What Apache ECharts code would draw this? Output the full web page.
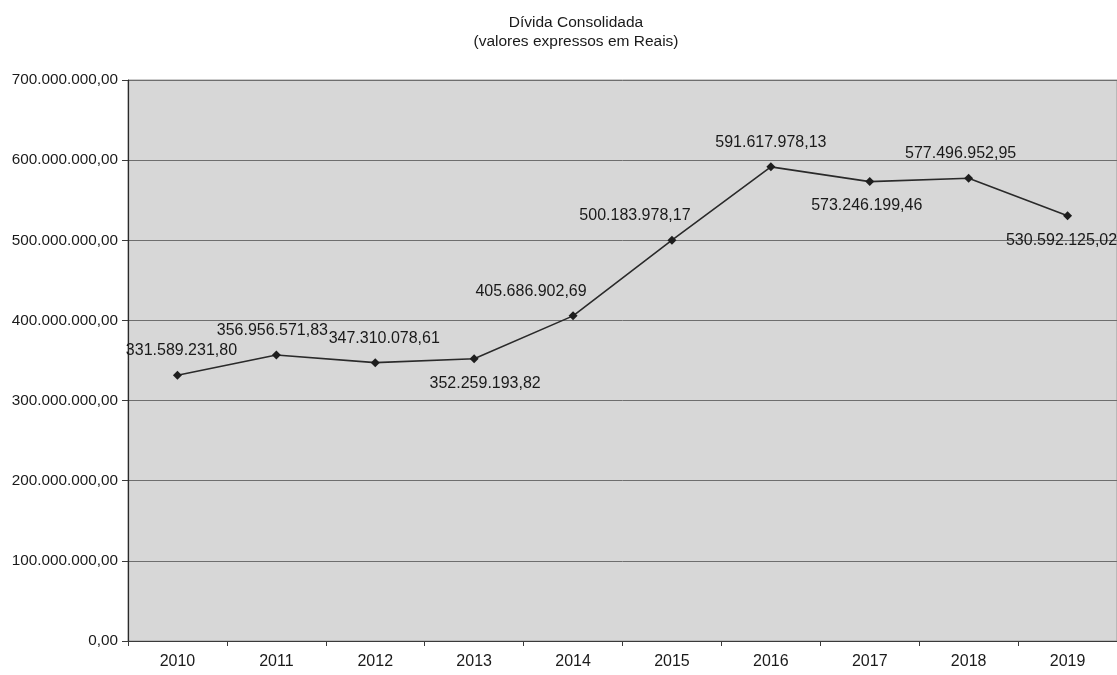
<!DOCTYPE html>
<html>
<head>
<meta charset="utf-8">
<script src="https://cdn.jsdelivr.net/npm/echarts@6/dist/echarts.min.js"></script>
<style>
  html, body { margin: 0; padding: 0; background: #ffffff; }
  #chart { width: 1117px; height: 675px; }
</style>
</head>
<body>
<div id="chart"></div>
<script>
// Consolidated debt per year, in Reais
const years = ['2010', '2011', '2012', '2013', '2014', '2015', '2016', '2017', '2018', '2019'];
const debt = [
  331589231.80, 356956571.83, 347310078.61, 352259193.82, 405686902.69,
  500183978.17, 591617978.13, 573246199.46, 577496952.95, 530592125.02
];
const yTicks = [0, 100000000, 200000000, 300000000, 400000000, 500000000, 600000000, 700000000];

// Brazilian number format: 1.234.567,89
function fmtBR(v) {
  const parts = Number(v).toFixed(2).split('.');
  const intPart = parts[0].replace(/\B(?=(\d{3})+(?!\d))/g, '.');
  return intPart + ',' + parts[1];
}

// where each value label sits relative to its point
const labelSide = ['top', 'top', 'top', 'bottom', 'top', 'top', 'top', 'bottom', 'top', 'bottom'];
const labelShift = [[4, 0], [-4, 0], [9, 0], [11, 0], [-42, 0], [-37, 0], [0, 0], [-3, 0], [-8, 0], [-6, 0]];

const seriesData = debt.map((v, i) => ({
  value: v,
  label: { position: labelSide[i], offset: labelShift[i] }
}));

const FONT = '"Liberation Sans", Arial, sans-serif';
const chart = echarts.init(document.getElementById('chart'), null, { renderer: 'canvas' });

chart.setOption({
  animation: false,
  backgroundColor: '#ffffff',
  title: {
    text: 'Dívida Consolidada\n(valores expressos em Reais)',
    left: 571,
    top: 8,
    textAlign: 'center',
    textStyle: {
      fontFamily: FONT,
      fontSize: 15.5,
      fontWeight: 'normal',
      color: '#1a1a1a',
      lineHeight: 19
    }
  },
  grid: {
    left: 128,
    right: 0,
    top: 80,
    bottom: 34,
    show: true,
    backgroundColor: '#d7d7d7',
    borderColor: '#9a9a9a',
    borderWidth: 1
  },
  xAxis: {
    type: 'category',
    data: years,
    boundaryGap: true,
    axisLine: { show: true, lineStyle: { color: '#3a3a3a', width: 1.2 } },
    axisTick: { show: true, alignWithLabel: false, length: 5, lineStyle: { color: '#3a3a3a' } },
    axisLabel: {
      margin: 13,
      fontFamily: FONT,
      fontSize: 16,
      color: '#1a1a1a'
    },
    splitLine: { show: false }
  },
  yAxis: {
    type: 'value',
    min: 0,
    max: yTicks[yTicks.length - 1],
    interval: yTicks[1] - yTicks[0],
    axisLine: { show: true, lineStyle: { color: '#2a2a2a', width: 1.2 } },
    axisTick: { show: true, length: 6, lineStyle: { color: '#3a3a3a' } },
    axisLabel: {
      margin: 10,
      fontFamily: FONT,
      fontSize: 15.3,
      color: '#1a1a1a',
      formatter: v => fmtBR(v)
    },
    splitLine: { show: true, lineStyle: { color: '#6e6e6e', width: 1 } }
  },
  series: [{
    type: 'line',
    data: seriesData,
    symbol: 'diamond',
    symbolSize: 9,
    itemStyle: { color: '#1e1e1e' },
    lineStyle: { color: '#2a2a2a', width: 1.6 },
    label: {
      show: true,
      distance: 12,
      fontFamily: FONT,
      fontSize: 16,
      color: '#1a1a1a',
      formatter: p => fmtBR(p.value)
    }
  }]
});
</script>
</body>
</html>
